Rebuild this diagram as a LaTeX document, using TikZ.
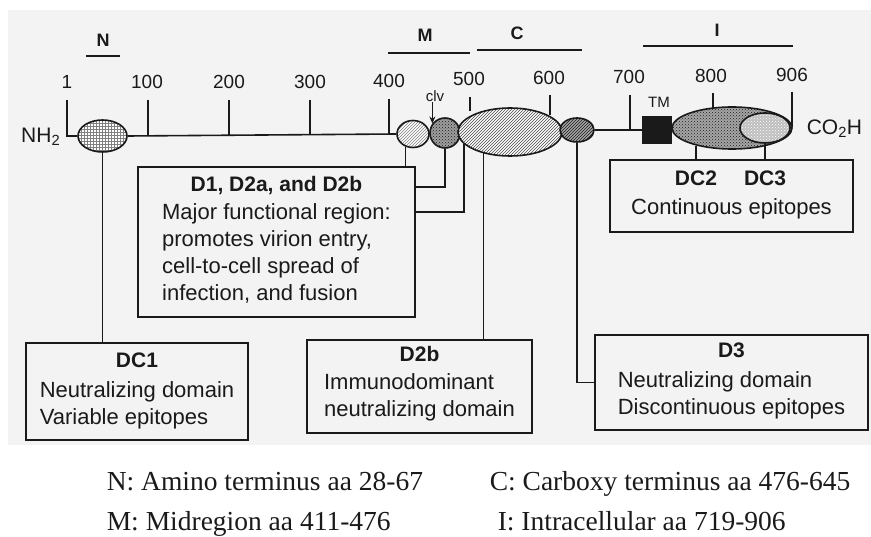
\documentclass[tikz,border=0pt]{standalone}
\usepackage{fontspec}
\setmainfont{Liberation Serif}
\setsansfont{Liberation Sans}
\usepackage{tikz}
\usetikzlibrary{arrows.meta,positioning,shapes.geometric,patterns}
\definecolor{scanbg}{HTML}{F3F3F3}
\definecolor{ink}{HTML}{1A1A1A}

\begin{document}
\begin{tikzpicture}[x=1pt,y=-1pt,line width=1.6pt,draw=ink,text=ink,
  lbl/.style={font=\sffamily\fontsize{19}{19}\selectfont,inner sep=0pt},
  small/.style={font=\sffamily\fontsize{15}{15}\selectfont,inner sep=0pt},
  sect/.style={font=\sffamily\bfseries\fontsize{18}{18}\selectfont,inner sep=0pt},
  term/.style={font=\sffamily\fontsize{21}{21}\selectfont,inner sep=0pt},
  dom/.style={draw,ellipse,inner sep=0pt},
  box/.style={draw,rectangle,inner sep=0pt},
  ttl/.style={font=\sffamily\bfseries\fontsize{21}{24}\selectfont,inner sep=0pt},
  body/.style={font=\sffamily\fontsize{22}{27}\selectfont,inner sep=0pt,align=left},
  keytext/.style={font=\rmfamily\fontsize{27.5}{27.5}\selectfont,inner sep=0pt,anchor=base west}]
  \useasboundingbox (0,0) rectangle (871,537);
  % Scan background
  \fill[scanbg] (8,10) rectangle (871,445);
  % Regions above the scale
  \draw (86,56) -- (120,56);
  \node[sect] (nsec) at (103,40) {N};
  \draw (388,53) -- (470,53);
  \node[sect] (msec) at (425,35) {M};
  \draw (477,50) -- (582,50);
  \node[sect] (csec) at (517,33) {C};
  \draw (643,46) -- (793,46);
  \node[sect] (isec) at (717,30) {I};
  % Scale
  \foreach \xx/\yy/\num in {67/82/1,147/82/100,229/82/200,310/82/300,389/81/400,
                            469/79/500,549/78/600,629/77/700,711/76/800,792/75/906}
    \node[lbl] (t\num) at (\xx,\yy) {\num};
  \foreach \xx/\ytop/\ybot in {148/100/135,229/100/135,310/100/135,389/99/134,
                               470/97/111,550/95/115,630/95/130,713/93/108,792/92/127}
    \draw (\xx,\ytop) -- (\xx,\ybot);
  % Domains on the chain
  \node[dom,minimum width=49pt,minimum height=32pt,preaction={fill=white},
        pattern=grid,pattern color=gray] (nreg) at (102.5,136) {};
  \node[dom,minimum width=32pt,minimum height=27pt,preaction={fill=white},
        pattern=north east lines,pattern color=gray] (d1) at (413,134) {};
  \node[dom,minimum width=30pt,minimum height=30pt,preaction={fill=gray!75},
        pattern=crosshatch dots,pattern color=ink] (d2a) at (445,133) {};
  \node[dom,minimum width=104pt,minimum height=48pt,preaction={fill=white},
        pattern=north east lines,pattern color=ink!80] (d2b) at (510,132) {};
  \node[dom,minimum width=34pt,minimum height=24pt,preaction={fill=gray!70},
        pattern=north east lines,pattern color=ink] (d3) at (577,130) {};
  \node[box,fill=ink,minimum width=28pt,minimum height=26pt] (tm) at (657,130) {};
  \node[dom,minimum width=120pt,minimum height=42pt,preaction={fill=gray!70},
        pattern=crosshatch dots,pattern color=ink] (dc2) at (732,128) {};
  \node[dom,minimum width=50pt,minimum height=30pt,preaction={fill=gray!50},
        pattern=crosshatch dots,pattern color=white] (dc3) at (765,128) {};
  % Termini and chain
  \node[term,anchor=east] (nh2) at (61,137) {NH\textsubscript{2}};
  \node[term,anchor=west] (cooh) at (806,129) {CO\textsubscript{2}H};
  \coordinate (nend) at (67,100);
  \draw (nend) |- (nreg.west);
  \draw (nreg.east) -- (d1.west);
  \draw (d3.east) -- (tm.west);
  \node[small] (tmlbl) at (659,102) {TM};
  \node[small] (clv) at (435,96) {clv};
  \draw[-{Stealth[length=7pt,width=6pt]},line width=1pt] (d2a.143 |- clv.south) -- (d2a.143);
  % Boxes
  \node[box,minimum width=277pt,minimum height=150pt] (funcbox) at (276.5,242) {};
  \node[ttl,below=9pt of funcbox.north] (functtl) {D1, D2a, and D2b};
  \node[body,below=37pt of funcbox.north] (funcbody)
    {Major functional region:\\promotes virion entry,\\cell-to-cell spread of\\infection, and fusion};
  \node[box,minimum width=243pt,minimum height=72pt] (dcbox) at (731.5,196) {};
  \node[ttl,anchor=north] (dc2ttl) at ([yshift=-11pt]dcbox.north -| dc2.206) {DC2};
  \node[ttl,anchor=north] (dc3ttl) at ([yshift=-11pt]dcbox.north -| dc3.south) {DC3};
  \node[body,below=39pt of dcbox.north] (dcbody) {Continuous epitopes};
  \node[box,minimum width=222pt,minimum height=97pt] (dc1box) at (137,391.5) {};
  \node[ttl,below=10pt of dc1box.north] (dc1ttl) {DC1};
  \node[body,below=39pt of dc1box.north] (dc1body) {Neutralizing domain\\Variable epitopes};
  \node[box,minimum width=225pt,minimum height=93pt] (d2bbox) at (419.5,386.5) {};
  \node[ttl,below=6pt of d2bbox.north] (d2bttl) {D2b};
  \node[body,below=34pt of d2bbox.north] (d2bbody) {Immunodominant\\neutralizing domain};
  \node[box,minimum width=273pt,minimum height=95pt] (d3box) at (731.5,382.5) {};
  \node[ttl,below=8pt of d3box.north] (d3ttl) {D3};
  \node[body,below=37pt of d3box.north] (d3body) {Neutralizing domain\\Discontinuous epitopes};
  % Connectors
  \draw (nreg.south) -- (nreg.south |- dc1box.north);
  \draw (d1.240) -- (d1.240 |- funcbox.north);
  \draw (d2a.south) |- ([yshift=-21pt]funcbox.north east);
  \draw (d2b.195) |- ([yshift=-46pt]funcbox.north east);
  \draw (d2b.219) -- (d2b.219 |- d2bbox.north);
  \draw (d3.south) |- (d3box.west);
  \draw (dc2.206) -- (dc2.206 |- dcbox.north);
  \draw (dc3.south) -- (dc3.south |- dcbox.north);
  % Key
  \node[keytext] (keyn) at (106,490) {N: Amino terminus aa 28-67};
  \node[keytext] (keyc) at (489,490) {C: Carboxy terminus aa 476-645};
  \node[keytext] (keym) at (106,530) {M: Midregion aa 411-476};
  \node[keytext] (keyi) at (497,530) {I: Intracellular aa 719-906};
\end{tikzpicture}
\end{document}
